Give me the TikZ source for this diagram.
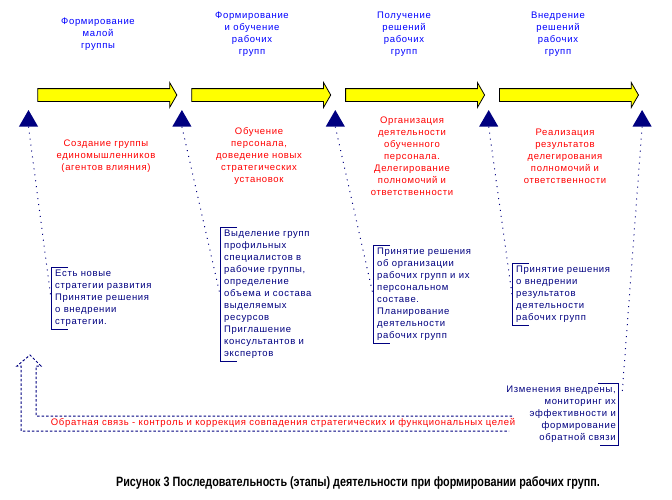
\documentclass[tikz,border=0pt]{standalone}
\usepackage{fontspec}
\setmainfont{Liberation Sans}[LetterSpace=7]
\newfontfamily\capfont{Liberation Sans}[FakeStretch=0.8]
\usetikzlibrary{shapes.arrows,shapes.geometric,positioning}
\definecolor{navy}{RGB}{0,0,128}
\definecolor{headblue}{RGB}{0,0,255}
\definecolor{stagered}{RGB}{255,0,0}
\definecolor{stageyellow}{RGB}{255,255,0}

\begin{document}
\begin{tikzpicture}[x=1pt, y=-1pt, font=\fontsize{9.5}{12}\selectfont]
\useasboundingbox (0,0) rectangle (672,499);

% Styles
\tikzstyle{stage}   = [single arrow, draw=black, fill=stageyellow, line width=0.8pt, minimum height=139pt, inner xsep=0pt, inner ysep=6pt, single arrow head extend=6pt, single arrow tip angle=120]
\tikzstyle{tri}     = [regular polygon, regular polygon sides=3, fill=navy, minimum size=22pt, inner sep=0pt]
\tikzstyle{heading} = [text=headblue, align=center]
\tikzstyle{result}  = [text=stagered, align=center]
\tikzstyle{note}    = [text=navy, align=left, inner xsep=4pt, inner ysep=3pt]
\tikzstyle{link}    = [navy, line width=1pt, dash pattern=on 1pt off 5pt]
\tikzstyle{bracket} = [navy, line width=1pt]
\tikzstyle{feedback}= [navy, line width=1pt, dash pattern=on 2.5pt off 2pt]

% Stages
\node [stage] (a1) at (105.5,95) {};
\node [stage, right=14pt of a1] (a2) {};
\node [stage, right=14pt of a2] (a3) {};
\node [stage, right=14pt of a3] (a4) {};

% Headings
\node [heading] (h1) at (98,34) {Формирование\\малой\\группы};
\node [heading] (h2) at (252,34) {Формирование\\и обучение\\рабочих\\групп};
\node [heading] (h3) at (404,34) {Получение\\решений\\рабочих\\групп};
\node [heading] (h4) at (558,34) {Внедрение\\решений\\рабочих\\групп};

% Milestones
\node [tri] (t1) at (28.5,121) {};
\node [tri, right of=t1, node distance=153.4pt] (t2) {};
\node [tri, right of=t2, node distance=153.4pt] (t3) {};
\node [tri, right of=t3, node distance=153.4pt] (t4) {};
\node [tri, right of=t4, node distance=153.4pt] (t5) {};

% Results
\node [result] (r1) at (106,156) {Создание группы\\единомышленников\\(агентов влияния)};
\node [result] (r2) at (259,156) {Обучение\\персонала,\\доведение новых\\стратегических\\установок};
\node [result] (r3) at (412,156) {Организация\\деятельности\\обученного\\персонала.\\Делегирование\\полномочий и\\ответственности};
\node [result] (r4) at (565,156) {Реализация\\результатов\\делегирования\\полномочий и\\ответственности};

% Decisions
\node [note, anchor=north west] (b1) at (51,267) {Есть новые\\стратегии развития\\Принятие решения\\о внедрении\\стратегии.};
\node [note, anchor=north west] (b2) at (220,227) {Выделение групп\\профильных\\специалистов в\\рабочие группы,\\определение\\объема и состава\\выделяемых\\ресурсов\\Приглашение\\консультантов и\\экспертов};
\node [note, anchor=north west] (b3) at (373,245) {Принятие решения\\об организации\\рабочих групп и их\\персональном\\составе.\\Планирование\\деятельности\\рабочих групп};
\node [note, anchor=north west] (b4) at (512,263) {Принятие решения\\о внедрении\\результатов\\деятельности\\рабочих групп};
\node [note, anchor=north east, align=right, inner xsep=2pt] (b5) at (618,383) {Изменения внедрены,\\мониторинг их\\эффективности и\\формирование\\обратной связи};

% Brackets
\draw [bracket] ([xshift=17pt]b1.north west) -- (b1.north west) -- (b1.south west) -- ([xshift=17pt]b1.south west);
\draw [bracket] ([xshift=17pt]b2.north west) -- (b2.north west) -- (b2.south west) -- ([xshift=17pt]b2.south west);
\draw [bracket] ([xshift=17pt]b3.north west) -- (b3.north west) -- (b3.south west) -- ([xshift=17pt]b3.south west);
\draw [bracket] ([xshift=17pt]b4.north west) -- (b4.north west) -- (b4.south west) -- ([xshift=17pt]b4.south west);
\draw [bracket] ([xshift=-20pt]b5.north east) -- (b5.north east) -- (b5.south east) -- ([xshift=-18pt]b5.south east);

% Connections
\draw [link] (t1.south) -- (b1.west);
\draw [link] (t2.south) -- (b2.west);
\draw [link] (t3.south) -- (b3.west);
\draw [link] (t4.south) -- (b4.west);
\draw [link] (t5.south) -- ([xshift=4pt,yshift=-12pt]b5.north east);

% Feedback
\coordinate (fbin) at (512,416);
\coordinate (fbout) at (509,431);
\draw [feedback] (fbin) -| (36,366) -- (41,366) -- (30,355) -- (17,366) -- (21,366) |- (fbout);
\node [result] (fbtext) at (283,423) {Обратная связь - контроль и коррекция совпадения стратегических и функциональных целей};

% Caption
\node (cap) at (358,483) {\capfont\bfseries\fontsize{13.5}{15}\selectfont Рисунок 3 Последовательность (этапы) деятельности при формировании рабочих групп.};

\end{tikzpicture}
\end{document}
